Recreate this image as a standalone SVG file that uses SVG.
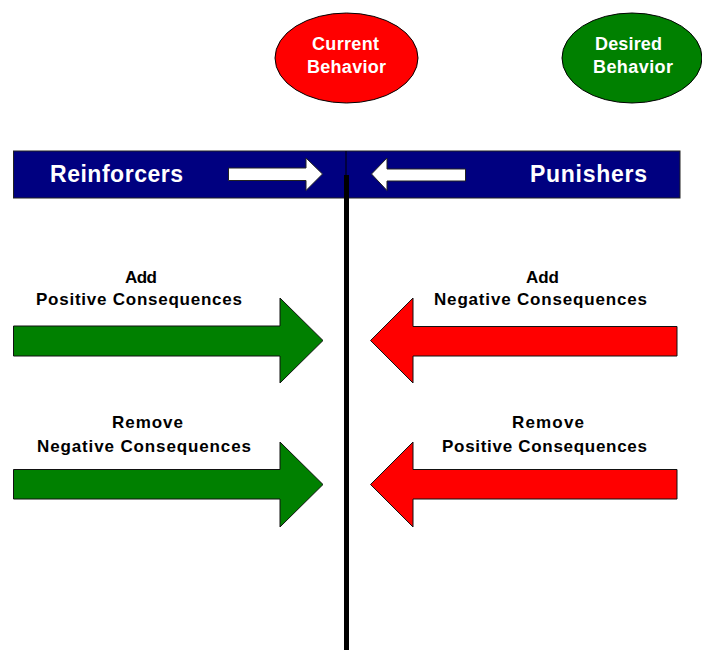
<svg xmlns="http://www.w3.org/2000/svg" width="702" height="650" viewBox="0 0 702 650">
<style>
.bg{fill:#ffffff}
.oval-red{fill:#ff0000;stroke:#000;stroke-width:1}
.oval-green{fill:#008000;stroke:#000;stroke-width:1}
.bar{fill:#000080;stroke:#222;stroke-width:1}
.wa{fill:#ffffff;stroke:#222;stroke-width:1}
.ga{fill:#008000;stroke:#111;stroke-width:1}
.ra{fill:#ff0000;stroke:#111;stroke-width:1}
.wt{font-family:"Liberation Sans",Arial,sans-serif;font-weight:bold;fill:#ffffff}
.bt{font-family:"Liberation Sans",Arial,sans-serif;font-weight:bold;fill:#000000;font-size:17px}
.oval{font-size:18px}
.hdr{font-size:23px}
</style>
<rect class="bg" x="0" y="0" width="702" height="650"/>
<g id="current-behavior">
<ellipse class="oval-red" cx="346.5" cy="58" rx="71.5" ry="45"/>
<text class="wt oval" x="312" y="50" textLength="67">Current</text>
<text class="wt oval" x="307" y="73" textLength="79">Behavior</text>
</g>
<g id="desired-behavior">
<ellipse class="oval-green" cx="632" cy="58" rx="70" ry="45"/>
<text class="wt oval" x="595" y="50" textLength="67">Desired</text>
<text class="wt oval" x="593" y="73" textLength="80">Behavior</text>
</g>
<g id="header-bar">
<rect class="bar" x="13.5" y="151" width="666.5" height="47"/>
<line x1="346" y1="151" x2="346" y2="198" stroke="#000" stroke-width="1"/>
</g>
<g id="reinforcers">
<text class="wt hdr" x="50" y="182" textLength="133">Reinforcers</text>
<polygon class="wa" points="228.5,168 306,168 306,158 322.5,174 306,190.5 306,180.5 228.5,180.5"/>
</g>
<g id="punishers">
<text class="wt hdr" x="530" y="182" textLength="117">Punishers</text>
<polygon class="wa" points="465.5,169 387,169 387,158 371.5,174 387,190.5 387,181 465.5,181"/>
</g>
<g id="connectors">
<line x1="346.5" y1="175" x2="346.5" y2="650" stroke="#000" stroke-width="5"/>
</g>
<g id="add-positive">
<text class="bt" x="125" y="283" textLength="32">Add</text>
<text class="bt" x="36" y="305" textLength="206">Positive Consequences</text>
<polygon class="ga" points="13.5,326 280,326 280,298 323,340.5 280,383 280,356 13.5,356"/>
</g>
<g id="add-negative">
<text class="bt" x="526" y="283" textLength="33">Add</text>
<text class="bt" x="434" y="305" textLength="213">Negative Consequences</text>
<polygon class="ra" points="677,326.5 413,326.5 413,298 370.5,340.5 413,383 413,356 677,356"/>
</g>
<g id="remove-negative">
<text class="bt" x="112" y="428" textLength="71">Remove</text>
<text class="bt" x="37" y="452" textLength="214">Negative Consequences</text>
<polygon class="ga" points="13.5,469.5 280,469.5 280,442 323,484.5 280,527 280,499 13.5,499"/>
</g>
<g id="remove-positive">
<text class="bt" x="512" y="428" textLength="72">Remove</text>
<text class="bt" x="442" y="452" textLength="205">Positive Consequences</text>
<polygon class="ra" points="677,469.5 413,469.5 413,442 370.5,484.5 413,527 413,499 677,499"/>
</g>
</svg>
